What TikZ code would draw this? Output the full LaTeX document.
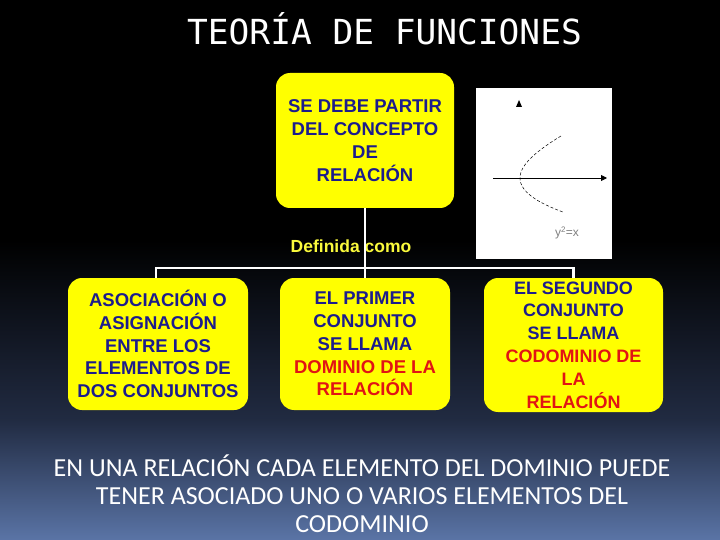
\documentclass[tikz,border=0pt]{standalone}
\usepackage{fontspec}
\setmainfont{Liberation Sans}
\newfontfamily\titlefont{DejaVu Sans Mono}
\newfontfamily\bottomfont{Carlito}
\usetikzlibrary{arrows.meta}
\definecolor{boxyellow}{RGB}{255,255,0}
\definecolor{txtblue}{RGB}{28,28,140}
\definecolor{txtred}{RGB}{225,20,20}
\definecolor{bgmid}{RGB}{33,43,66}
\definecolor{bgbot}{RGB}{90,116,166}
\definecolor{lblyellow}{RGB}{250,250,60}
\tikzset{
  ybox/.style={fill=boxyellow, rounded corners=14pt, align=center, inner sep=0pt,
    font=\bfseries\fontsize{18.5}{22.8}\selectfont, text=txtblue},
  wire/.style={draw=white, line width=2.6pt},
}
\begin{document}
\begin{tikzpicture}[x=1pt,y=-1pt]
\useasboundingbox (0,0) rectangle (720,540);
% background
\fill[black] (0,0) rectangle (720,541);
\shade[top color=black, bottom color=bgmid] (0,240) rectangle (720,421);
\shade[top color=bgmid, bottom color=bgbot] (0,420) rectangle (720,540);
% title
\node[text=white, font=\titlefont\fontsize{34.5}{40}\selectfont] (title) at (384.5,29) {TEORÍA DE FUNCIONES};
% top box
\node[ybox, minimum width=178pt, minimum height=135pt] (top) at (365,140.5)
  {SE DEBE PARTIR\\DEL CONCEPTO\\DE\\RELACIÓN};
% image box
\node[fill=white, minimum width=136pt, minimum height=171pt, inner sep=0pt] (img) at (544,173.5) {};
\coordinate (axL) at (493,178);
\coordinate (axR) at (607,178);
\draw[black, line width=0.9pt, -{Triangle[length=6pt,width=6pt]}] (axL) -- (axR);
\fill[black] (516,107) -- (522,107) -- (519,100) -- cycle;
\draw[black, line width=0.5pt, densely dashed, domain=-42:34, samples=40, variable=\t]
  plot ({520+(0.0309+0.000184*\t)*\t*\t}, {178+\t});
\node[text=gray, font=\fontsize{12}{14}\selectfont, inner sep=0pt] (eq) at (567,233) {y\textsuperscript{2}=x};
% bottom boxes
\node[ybox, minimum width=180pt, minimum height=132pt] (b1) at (158,344)
  {ASOCIACIÓN O\\ASIGNACIÓN\\ENTRE LOS\\ELEMENTOS DE\\DOS CONJUNTOS};
\node[ybox, minimum width=170pt, minimum height=132pt] (b2) at (365,344)
  {EL PRIMER\\CONJUNTO\\SE LLAMA\\\textcolor{txtred}{DOMINIO DE LA}\\\textcolor{txtred}{RELACIÓN}};
\node[ybox, minimum width=179pt, minimum height=134pt, font=\bfseries\fontsize{18}{22.8}\selectfont] (b3) at (573.5,345)
  {EL SEGUNDO\\CONJUNTO\\SE LLAMA\\\textcolor{txtred}{CODOMINIO DE}\\\textcolor{txtred}{LA}\\\textcolor{txtred}{RELACIÓN}};
% label
\node[text=lblyellow, font=\bfseries\fontsize{17.5}{20}\selectfont, inner sep=0pt] (def) at (351,246) {Definida como};
% connectors
\coordinate (bus) at (365,268);
\draw[wire] (top.south) -- (bus);
\draw[wire] ([xshift=-2pt]b1.north) |- (bus) -| (b3.north);
\draw[wire] (bus) -- (b2.north);
% bottom text
\node[text=white, align=center, font=\bottomfont\fontsize{26}{28}\selectfont] (note) at (362,494)
  {EN UNA RELACIÓN CADA ELEMENTO DEL DOMINIO PUEDE\\TENER ASOCIADO UNO O VARIOS ELEMENTOS DEL\\CODOMINIO};
\end{tikzpicture}
\end{document}
